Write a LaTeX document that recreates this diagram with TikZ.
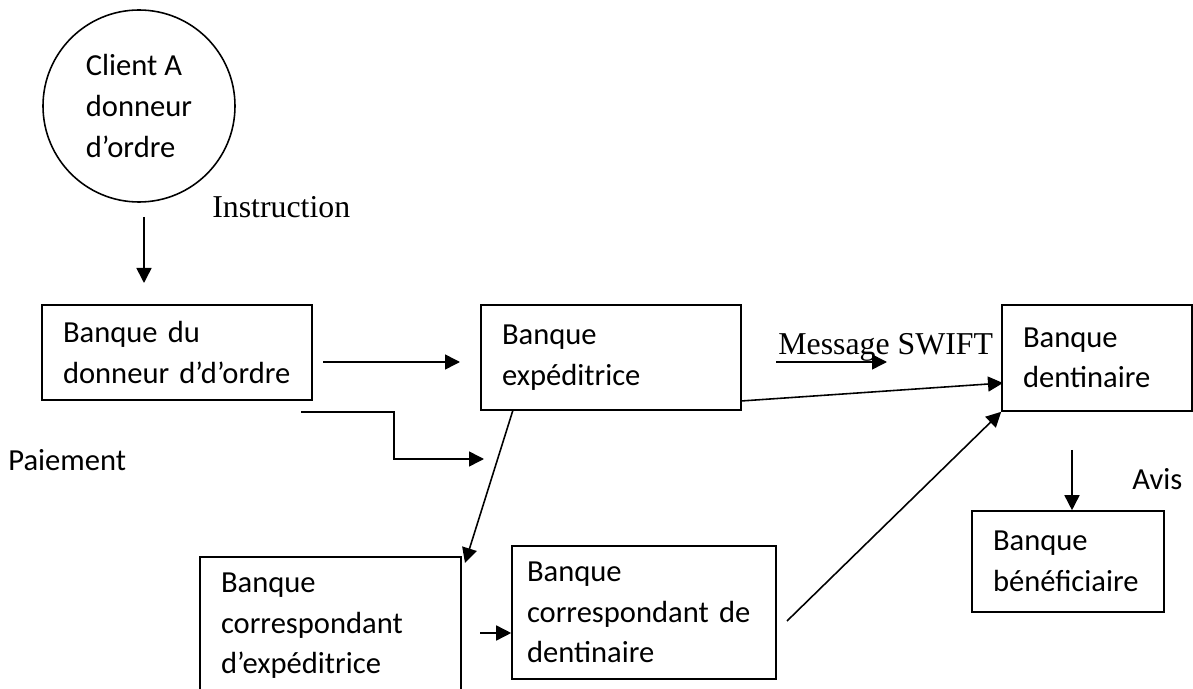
\documentclass[tikz,border=0pt]{standalone}
\usepackage{fontspec}
\setmainfont{Carlito}
\newfontfamily\timesfont{Liberation Serif}
\usetikzlibrary{arrows.meta, positioning, calc}

\begin{document}
\begin{tikzpicture}[
  bank/.style={draw, line width=0.9pt, align=left, inner xsep=0.42cm, font=\fontsize{17.4}{23}\selectfont},
  flow/.style={-{Triangle[length=0.3cm, width=0.3cm]}, line width=0.9pt},
  tag/.style={anchor=base west, inner sep=0pt},
  serif/.style={font=\timesfont\fontsize{18.1}{22}\selectfont}
]
  \useasboundingbox (0,0) rectangle (23.86,13.76);

  % Client (top)
  \node[draw, circle, line width=0.9pt, minimum size=3.84cm, inner sep=0pt, align=left, font=\fontsize{17.4}{23.6}\selectfont] (client) at (2.78, 11.64) {Client A\\donneur\\d’ordre};
  \node[tag, serif] (instrtxt) at (4.24, 9.40) {Instruction};

  % Banks (middle row)
  \node[bank, text width=4.56cm, minimum height=1.9cm] (donneur) at (3.54, 6.71) {Banque du\\donneur d’d’ordre};
  \node[bank, text width=4.36cm, minimum height=2.1cm] (expe) at (12.22, 6.61) {Banque\\expéditrice};
  \node[bank, text width=2.96cm, minimum height=2.12cm] (dest) at (21.94, 6.60) {Banque\\dentinaire};
  \node[bank, text width=3.0cm, minimum height=2.02cm] (benef) at (21.36, 2.53) {Banque\\bénéficiaire};

  % Correspondents (bottom row)
  \node[bank, text width=4.38cm, minimum height=2.76cm] (correxp) at (6.61, 1.24) {Banque\\correspondant\\d’expéditrice};
  \node[bank, inner xsep=0.3cm, text width=4.68cm, minimum height=2.66cm] (corrdest) at (12.88, 1.51) {Banque\\correspondant de\\dentinaire};

  % Free labels
  \node[tag, serif] (swifttxt) at (15.56, 6.66) {Message SWIFT};
  \node[tag, font=\fontsize{17.4}{23}\selectfont] (paiement) at (0.16, 4.34) {Paiement};
  \node[tag, font=\fontsize{17.4}{23}\selectfont] (avis) at (22.64, 3.96) {Avis};

  % Loose arrow ends
  \coordinate (instrA) at (2.88, 9.42);
  \coordinate (instrB) at (2.88, 8.10);
  \coordinate (ordA) at (6.46, 6.52);
  \coordinate (ordB) at (9.20, 6.52);
  \coordinate (payA) at (6.02, 5.52);
  \coordinate (payB) at (7.88, 5.52);
  \coordinate (payC) at (9.68, 4.58);
  \coordinate (expA) at (10.26, 5.56);
  \coordinate (expB) at (9.30, 2.50);
  \coordinate (expC) at (14.82, 5.74);
  \coordinate (destA) at (20.06, 6.10);
  \coordinate (corrA) at (9.60, 1.10);
  \coordinate (corrB) at (15.74, 1.34);
  \coordinate (swiftA) at (15.52, 6.52);
  \coordinate (swiftB) at (17.74, 6.52);
  \coordinate (avisA) at (21.44, 4.76);

  % Flows
  \draw[flow] (instrA) -- (instrB);
  \draw[flow] (ordA) -- (ordB);
  \draw[flow] (payA) -- (payB) |- (payC);
  \draw[flow] (expA) -- (expB);
  \draw[flow] (expC) -- (destA);
  \draw[flow] (swiftA) -- (swiftB);
  \draw[flow] (corrA) -- (corrA -| corrdest.west);
  \draw[flow] (corrB) -- (dest.south west);
  \draw[flow] (avisA) -- (avisA |- benef.north);
\end{tikzpicture}
\end{document}
